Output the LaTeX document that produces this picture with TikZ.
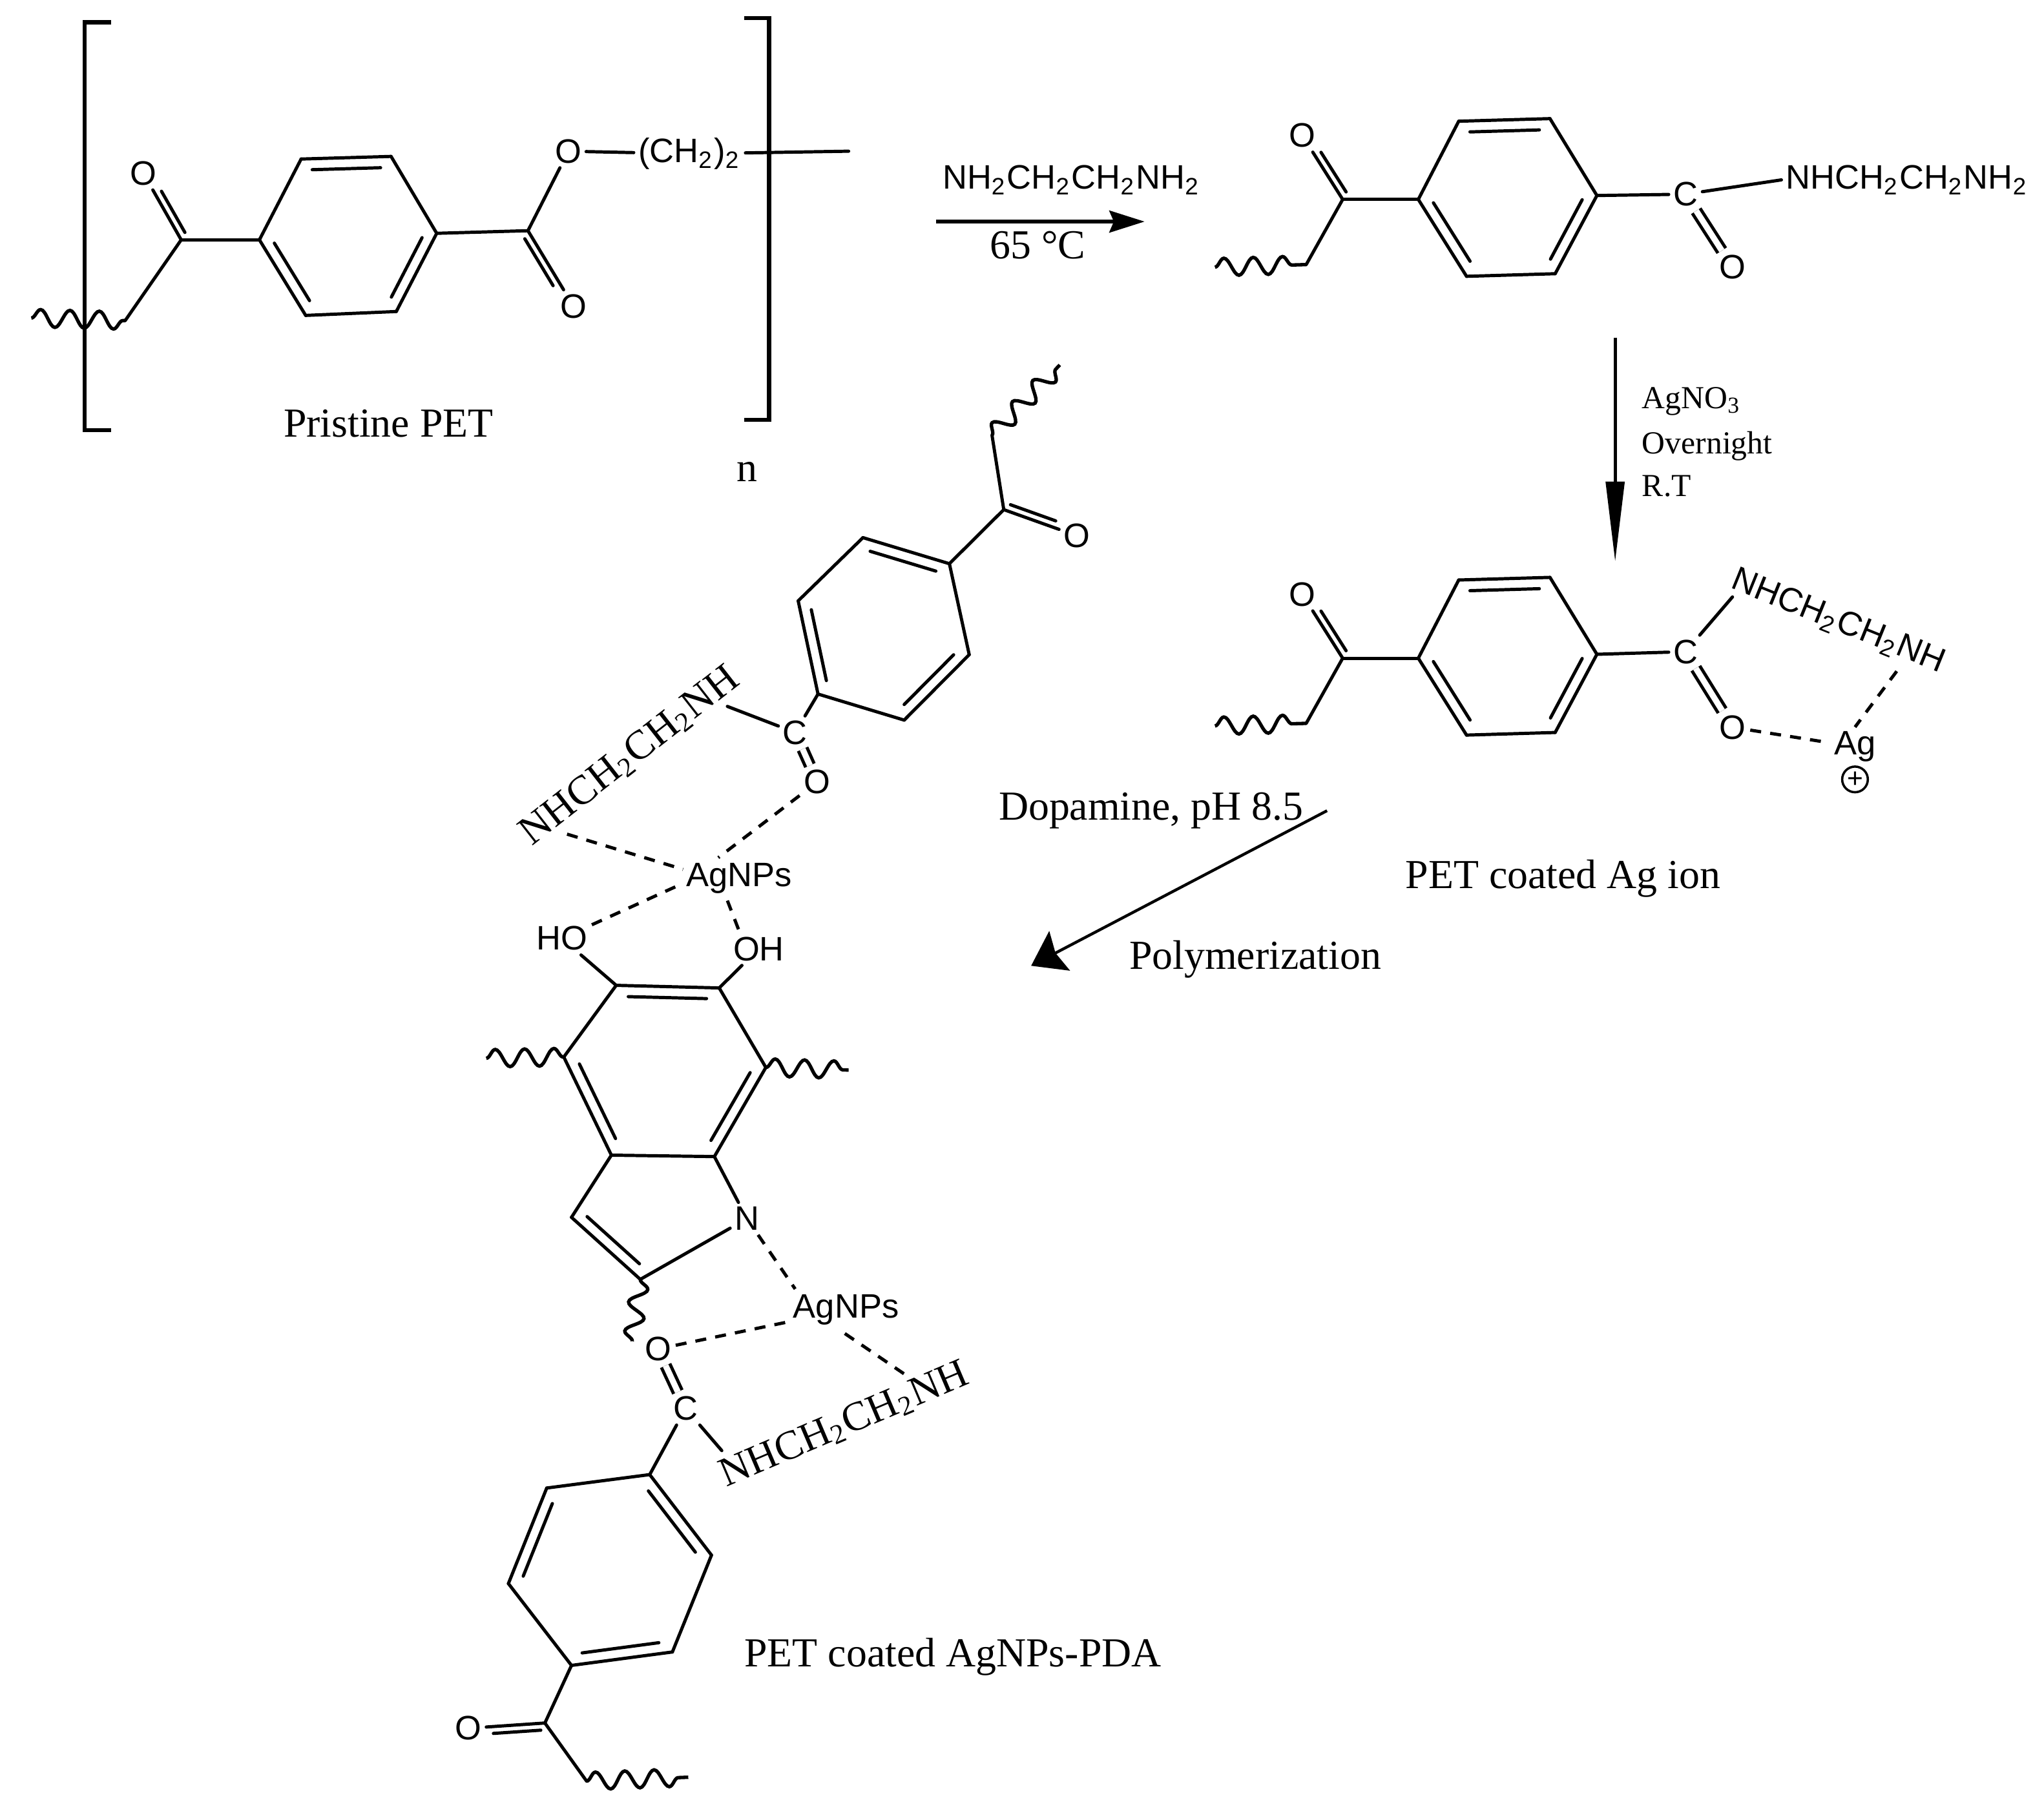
\documentclass[tikz,border=0pt]{standalone}
\usepackage{fontspec}
\setmainfont{Liberation Serif}
\newfontfamily\chemfont{Liberation Sans}
\usepackage{tikz}
\usetikzlibrary{calc,arrows.meta,decorations.pathmorphing}
\pgfdeclarelayer{bg}
\pgfsetlayers{bg,main}
\tikzset{
  atom/.style={font={\chemfont\fontsize{7.4}{9}\selectfont},inner sep=1pt,outer sep=0pt},
  caption/.style={font={\fontsize{9}{11}\selectfont},inner sep=0pt},
  cond/.style={font={\fontsize{7}{9}\selectfont},inner sep=0pt,anchor=west},
  bond/.style={line width=0.7pt,line cap=round},
  dbond/.style={bond,double,double distance=1.3pt,line cap=butt},
  wave/.style={line width=0.75pt,decorate,decoration={snake,segment length=6.4pt,amplitude=1.9pt}},
  dashbond/.style={line width=0.7pt,dash pattern=on 2.4pt off 2pt},
  bracket/.style={line width=0.9pt},
}
\newcommand{\sub}[1]{\textsubscript{#1}}
\newcommand{\ringdbl}[2]{\draw ($(#1)!.12!(#2)!2.4pt!-90:(#2)$) edge [bond] ($(#1)!.88!(#2)!2.4pt!-90:(#2)$);}
\newcommand{\oxodbl}[3]{\draw (#1) edge [bond] (#2);
  \draw ($(#1)!.06!(#2)!1.5pt!#3:(#2)$) edge [bond] ($(#1)!.68!(#2)!1.5pt!#3:(#2)$);}
\begin{document}
\begin{tikzpicture}
	\useasboundingbox (0cm, 0cm) rectangle (15.68cm, -13.906cm);
	% pristine PET
	\coordinate (a0) at (1.99cm, -1.84cm);
	\coordinate (a1) at (2.31cm, -1.22cm);
	\coordinate (a2) at (3.00cm, -1.20cm);
	\coordinate (a3) at (3.35cm, -1.79cm);
	\coordinate (a4) at (3.04cm, -2.39cm);
	\coordinate (a5) at (2.345cm, -2.42cm);
	\coordinate (a6) at (1.39cm, -1.84cm);
	\coordinate (a7) at (4.05cm, -1.77cm);
	\coordinate (aw0) at (0.24cm, -2.44cm);
	\coordinate (aw1) at (0.96cm, -2.46cm);
	\coordinate (at) at (6.51cm, -1.16cm);
	\node (ao1) [atom] at (1.10cm, -1.33cm) {O};
	\node (ao2) [atom] at (4.36cm, -1.16cm) {O};
	\node (ao3) [atom] at (4.40cm, -2.35cm) {O};
	\node (ach) [atom] at (5.29cm, -1.18cm) {(CH\sub{2})\sub{2}};
	\node (apet) [caption] at (2.98cm, -3.25cm) {Pristine PET};
	\node (an) [caption] at (5.73cm, -3.62cm) {n};
	\coordinate (l0) at (0.85cm, -0.17cm);
	\coordinate (l1) at (0.65cm, -0.17cm);
	\coordinate (l2) at (0.65cm, -3.30cm);
	\coordinate (l3) at (0.85cm, -3.30cm);
	\coordinate (r0) at (5.71cm, -0.14cm);
	\coordinate (r1) at (5.90cm, -0.14cm);
	\coordinate (r2) at (5.90cm, -3.22cm);
	\coordinate (r3) at (5.71cm, -3.22cm);
	% first reaction
	\coordinate (s0) at (7.18cm, -1.70cm);
	\coordinate (s1) at (8.78cm, -1.70cm);
	\node (sa) [atom] at (8.22cm, -1.38cm) {NH\sub{2}CH\sub{2}CH\sub{2}NH\sub{2}};
	\node (sb) [caption] at (7.96cm, -1.88cm) {65 °C};
	% amide
	\coordinate (b0) at (10.88cm, -1.53cm);
	\coordinate (b1) at (11.19cm, -0.93cm);
	\coordinate (b2) at (11.89cm, -0.91cm);
	\coordinate (b3) at (12.25cm, -1.50cm);
	\coordinate (b4) at (11.93cm, -2.10cm);
	\coordinate (b5) at (11.25cm, -2.12cm);
	\coordinate (b6) at (10.30cm, -1.53cm);
	\coordinate (bw0) at (9.32cm, -2.05cm);
	\coordinate (bw1) at (10.02cm, -2.03cm);
	\node (bo1) [atom] at (9.99cm, -1.04cm) {O};
	\node (bc) [atom] at (12.93cm, -1.49cm) {C};
	\node (bo2) [atom] at (13.29cm, -2.05cm) {O};
	\node (bn) [atom] at (14.63cm, -1.38cm) {NHCH\sub{2}CH\sub{2}NH\sub{2}};
	% second reaction
	\coordinate (t0) at (12.39cm, -2.59cm);
	\coordinate (t1) at (12.39cm, -4.31cm);
	\node (ta) [cond] at (12.59cm, -3.08cm) {AgNO\sub{3}};
	\node (tb) [cond] at (12.59cm, -3.42cm) {Overnight};
	\node (tc) [cond] at (12.59cm, -3.73cm) {R.T};
	% silver ion
	\coordinate (c0) at (10.88cm, -5.05cm);
	\coordinate (c1) at (11.19cm, -4.45cm);
	\coordinate (c2) at (11.89cm, -4.43cm);
	\coordinate (c3) at (12.25cm, -5.02cm);
	\coordinate (c4) at (11.93cm, -5.62cm);
	\coordinate (c5) at (11.25cm, -5.64cm);
	\coordinate (c6) at (10.30cm, -5.05cm);
	\coordinate (cw0) at (9.32cm, -5.57cm);
	\coordinate (cw1) at (10.02cm, -5.55cm);
	\coordinate (cb) at (13.29cm, -4.58cm);
	\coordinate (cd) at (14.55cm, -5.15cm);
	\node (co1) [atom] at (9.99cm, -4.56cm) {O};
	\node (cc) [atom] at (12.93cm, -5.00cm) {C};
	\node (co2) [atom] at (13.29cm, -5.58cm) {O};
	\node (cn) [atom,rotate=-22] at (14.10cm, -4.77cm) {NHCH\sub{2}CH\sub{2}NH};
	\node (cag) [atom] at (14.23cm, -5.73cm) {Ag};
	\node (cp) [circle,draw,line width=0.5pt,inner sep=0pt,minimum size=5.6pt,font={\chemfont\fontsize{6}{6}\selectfont}] at (14.23cm, -5.98cm) {+};
	\node (cpet) [caption] at (11.99cm, -6.74cm) {PET coated Ag ion};
	% third reaction
	\coordinate (u0) at (10.18cm, -6.22cm);
	\coordinate (u1) at (7.91cm, -7.41cm);
	\node (ua) [caption] at (8.83cm, -6.22cm) {Dopamine, pH 8.5};
	\node (ub) [caption] at (9.63cm, -7.36cm) {Polymerization};
	% top benzoate
	\coordinate (d0) at (6.123cm, -4.61cm);
	\coordinate (d1) at (6.62cm, -4.125cm);
	\coordinate (d2) at (7.283cm, -4.325cm);
	\coordinate (d3) at (7.435cm, -5.023cm);
	\coordinate (d4) at (6.936cm, -5.525cm);
	\coordinate (d5) at (6.275cm, -5.325cm);
	\coordinate (d6) at (7.70cm, -3.91cm);
	\coordinate (dw0) at (7.61cm, -3.34cm);
	\coordinate (dw1) at (8.13cm, -2.80cm);
	\coordinate (dd) at (4.35cm, -6.40cm);
	\coordinate (dt) at (5.58cm, -5.42cm);
	\coordinate (de0) at (5.24cm, -6.67cm);
	\coordinate (de1) at (5.51cm, -6.58cm);
	\coordinate (de2) at (5.19cm, -6.80cm);
	\coordinate (de3) at (5.58cm, -6.91cm);
	\coordinate (de4) at (5.665cm, -7.13cm);
	\node (do1) [atom] at (8.26cm, -4.11cm) {O};
	\node (dc) [atom] at (6.10cm, -5.62cm) {C};
	\node (do2) [atom] at (6.27cm, -6.00cm) {O};
	\node (dn) [caption,rotate=38] at (4.83cm, -5.80cm) {NHCH\sub{2}CH\sub{2}NH};
	\node (dag) [atom] at (5.67cm, -6.74cm) {AgNPs};
	\node (dho) [atom] at (4.31cm, -7.20cm) {HO};
	\node (doh) [atom] at (5.82cm, -7.28cm) {OH};
	% dopamine ring
	\coordinate (e0) at (4.727cm, -7.56cm);
	\coordinate (e1) at (5.517cm, -7.58cm);
	\coordinate (e2) at (5.875cm, -8.19cm);
	\coordinate (e3) at (5.48cm, -8.874cm);
	\coordinate (e4) at (4.69cm, -8.863cm);
	\coordinate (e5) at (4.325cm, -8.11cm);
	\coordinate (e6) at (4.912cm, -9.816cm);
	\coordinate (e7) at (4.384cm, -9.34cm);
	\coordinate (ew0) at (3.73cm, -8.12cm);
	\coordinate (ew1) at (6.51cm, -8.21cm);
	\coordinate (ew2) at (4.85cm, -10.29cm);
	\coordinate (ed0) at (6.10cm, -9.89cm);
	\coordinate (ed1) at (6.43cm, -10.197cm);
	\node (en) [atom] at (5.73cm, -9.35cm) {N};
	\node (eag) [atom] at (6.49cm, -10.05cm) {AgNPs};
	% bottom benzoate
	\coordinate (f0) at (3.90cm, -12.15cm);
	\coordinate (f1) at (4.194cm, -11.417cm);
	\coordinate (f2) at (4.984cm, -11.314cm);
	\coordinate (f3) at (5.458cm, -11.932cm);
	\coordinate (f4) at (5.158cm, -12.675cm);
	\coordinate (f5) at (4.384cm, -12.778cm);
	\coordinate (f6) at (4.18cm, -13.22cm);
	\coordinate (fw0) at (4.50cm, -13.666cm);
	\coordinate (fw1) at (5.28cm, -13.636cm);
	\coordinate (fd) at (6.934cm, -10.54cm);
	\coordinate (ft) at (5.537cm, -11.13cm);
	\node (fo1) [atom] at (5.047cm, -10.35cm) {O};
	\node (fc) [atom] at (5.259cm, -10.807cm) {C};
	\node (fo2) [atom] at (3.594cm, -13.26cm) {O};
	\node (fn) [caption,rotate=23] at (6.476cm, -10.93cm) {NHCH\sub{2}CH\sub{2}NH};
	\node (fpet) [caption] at (7.31cm, -12.71cm) {PET coated AgNPs-PDA};
	\begin{pgfonlayer}{bg}
		\draw (a0) edge [bond] (a1);
		\draw (a1) edge [bond] (a2);
		\draw (a2) edge [bond] (a3);
		\draw (a3) edge [bond] (a4);
		\draw (a4) edge [bond] (a5);
		\draw (a5) edge [bond] (a0);
		\ringdbl{a1}{a2}
		\ringdbl{a3}{a4}
		\ringdbl{a5}{a0}
		\draw (a0) edge [bond] (a6);
		\draw (a3) edge [bond] (a7);
		\oxodbl{a6}{ao1}{-90}
		\oxodbl{a7}{ao3}{-90}
		\draw (a7) edge [bond] (ao2);
		\draw (ao2) edge [bond] (ach);
		\draw (ach) edge [bond] (at);
		\draw (a6) edge [bond] (aw1);
		\draw (aw0) edge [wave] (aw1);
		\draw [bracket] (l0) -- (l1) -- (l2) -- (l3);
		\draw [bracket] (r0) -- (r1) -- (r2) -- (r3);
		\draw [line width=0.75pt,-{Stealth[length=7.7pt,width=4.8pt,inset=1pt]}] (s0) -- (s1);
		\draw (b0) edge [bond] (b1);
		\draw (b1) edge [bond] (b2);
		\draw (b2) edge [bond] (b3);
		\draw (b3) edge [bond] (b4);
		\draw (b4) edge [bond] (b5);
		\draw (b5) edge [bond] (b0);
		\ringdbl{b1}{b2}
		\ringdbl{b3}{b4}
		\ringdbl{b5}{b0}
		\draw (b0) edge [bond] (b6);
		\oxodbl{b6}{bo1}{-90}
		\draw (b6) edge [bond] (bw1);
		\draw (bw0) edge [wave] (bw1);
		\draw (b3) edge [bond] (bc);
		\draw (bc) edge [bond] (bn.west);
		\draw (bc) edge [dbond] (bo2);
		\draw [line width=0.75pt,-{Triangle[length=17.5pt,width=4pt]}] (t0) -- (t1);
		\draw (c0) edge [bond] (c1);
		\draw (c1) edge [bond] (c2);
		\draw (c2) edge [bond] (c3);
		\draw (c3) edge [bond] (c4);
		\draw (c4) edge [bond] (c5);
		\draw (c5) edge [bond] (c0);
		\ringdbl{c1}{c2}
		\ringdbl{c3}{c4}
		\ringdbl{c5}{c0}
		\draw (c0) edge [bond] (c6);
		\oxodbl{c6}{co1}{-90}
		\draw (c6) edge [bond] (cw1);
		\draw (cw0) edge [wave] (cw1);
		\draw (c3) edge [bond] (cc);
		\draw (cc) edge [bond] (cb);
		\draw (cc) edge [dbond] (co2);
		\draw (co2) edge [dashbond] (cag);
		\draw (cd) edge [dashbond] (cag.north);
		\draw [line width=0.62pt,-{Stealth[length=7pt,width=9.7pt,inset=1pt]}] (u0) -- (u1);
		\draw (d0) edge [bond] (d1);
		\draw (d1) edge [bond] (d2);
		\draw (d2) edge [bond] (d3);
		\draw (d3) edge [bond] (d4);
		\draw (d4) edge [bond] (d5);
		\draw (d5) edge [bond] (d0);
		\ringdbl{d1}{d2}
		\ringdbl{d3}{d4}
		\ringdbl{d5}{d0}
		\draw (d2) edge [bond] (d6);
		\oxodbl{d6}{do1}{90}
		\draw (d6) edge [bond] (dw0);
		\draw (dw0) edge [wave] (dw1);
		\draw (d5) edge [bond] (dc);
		\draw (dc) edge [bond] (dt);
		\draw (dc) edge [dbond] (do2);
		\draw (do2) edge [dashbond] (de1);
		\draw (dd) edge [dashbond] (de0);
		\draw (dho) edge [dashbond] (de2);
		\draw (de4) edge [dashbond] (de3);
		\draw (dho) edge [bond] (e0);
		\draw (doh) edge [bond] (e1);
		\draw (e0) edge [bond] (e1);
		\draw (e1) edge [bond] (e2);
		\draw (e2) edge [bond] (e3);
		\draw (e3) edge [bond] (e4);
		\draw (e4) edge [bond] (e5);
		\draw (e5) edge [bond] (e0);
		\ringdbl{e0}{e1}
		\ringdbl{e2}{e3}
		\ringdbl{e4}{e5}
		\draw (e3) edge [bond] (en);
		\draw (en) edge [bond] (e6);
		\draw (e6) edge [bond] (e7);
		\draw (e7) edge [bond] (e4);
		\ringdbl{e6}{e7}
		\draw (ew0) edge [wave] (e5);
		\draw (e2) edge [wave] (ew1);
		\draw (e6) edge [wave] (ew2);
		\draw (en) edge [dashbond] (ed0);
		\draw (fo1) edge [dashbond] (eag);
		\draw (fd) edge [dashbond] (ed1);
		\draw (fc) edge [dbond] (fo1);
		\draw (fc) edge [bond] (f2);
		\draw (fc) edge [bond] (ft);
		\draw (f0) edge [bond] (f1);
		\draw (f1) edge [bond] (f2);
		\draw (f2) edge [bond] (f3);
		\draw (f3) edge [bond] (f4);
		\draw (f4) edge [bond] (f5);
		\draw (f5) edge [bond] (f0);
		\ringdbl{f0}{f1}
		\ringdbl{f2}{f3}
		\ringdbl{f4}{f5}
		\draw (f5) edge [bond] (f6);
		\oxodbl{f6}{fo2}{90}
		\draw (f6) edge [bond] (fw0);
		\draw (fw0) edge [wave] (fw1);
	\end{pgfonlayer}
\end{tikzpicture}
\end{document}
